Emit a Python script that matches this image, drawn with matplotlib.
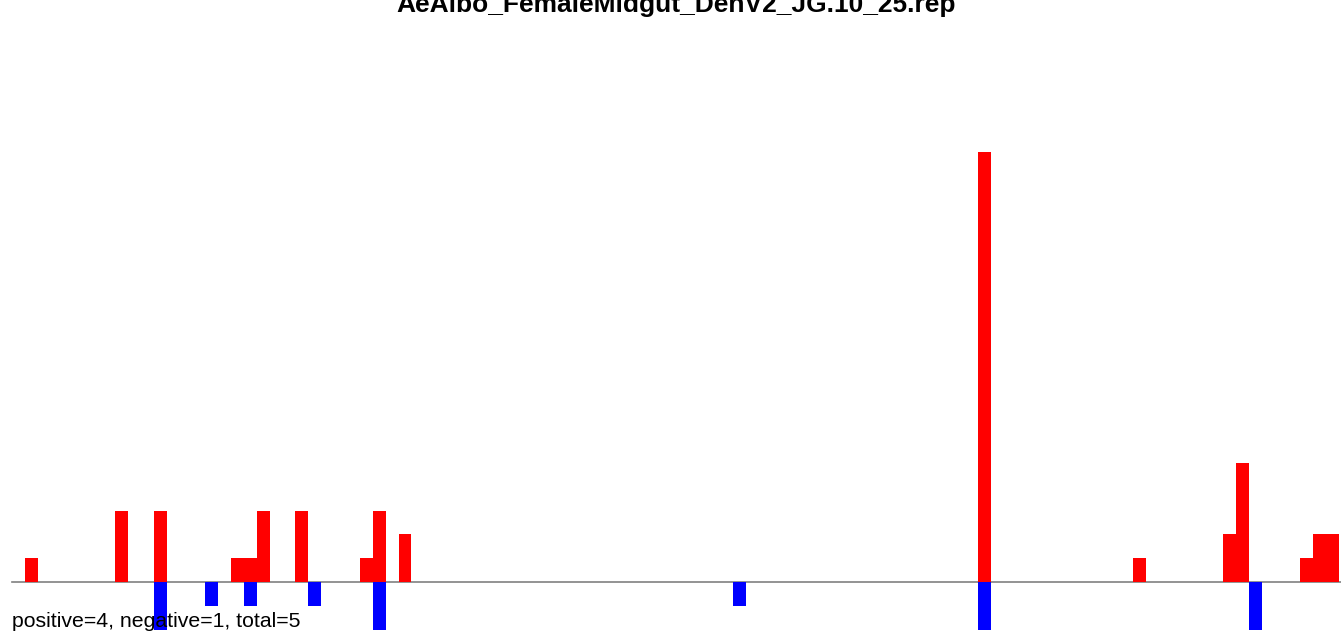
import matplotlib
matplotlib.use("Agg")
from matplotlib import pyplot as plt

plt.rcParams['font.family'] = ['Liberation Sans', 'DejaVu Sans']

title = "AeAlbo_FemaleMidgut_DenV2_JG.10_25.rep"
note = "positive=4, negative=1, total=5"
n_bins = 103

pos_bins = [1, 8, 11, 17, 18, 19, 22, 27, 28, 30, 75, 87, 94, 95, 100, 101, 102]
pos_vals = [1, 3, 3, 1, 1, 3, 3, 1, 3, 2, 18, 1, 2, 5, 1, 2, 2]
neg_bins = [11, 15, 18, 23, 28, 56, 75, 96]
neg_vals = [-2, -1, -1, -1, -2, -1, -2, -2]

W, H = 1341, 636
fig = plt.figure(figsize=(W / 100, H / 100), dpi=100)
# axes: x from px 12 to 1339, y -2 at px 630 and 18 at px 152
ax = fig.add_axes([12 / W, (H - 630) / H, (1339 - 12) / W, (630 - 152) / H])
ax.bar(pos_bins, pos_vals, width=1, align='edge', color='#ff0000', linewidth=0)
ax.bar(neg_bins, neg_vals, width=1, align='edge', color='#0000ff', linewidth=0)
ax.axhline(0, color='#808080', linewidth=1.2, xmax=1.01, clip_on=False, zorder=0)
ax.set_xlim(0, n_bins)
ax.set_ylim(-2, 18)
ax.axis('off')

fig.text(676 / W, (H - 12) / H, title, ha='center', va='baseline',
         fontsize=19, fontweight='bold')
fig.text(12 / W, (H - 627) / H, note, ha='left', va='baseline', fontsize=15.3)

fig.savefig('out.png', dpi=100)
